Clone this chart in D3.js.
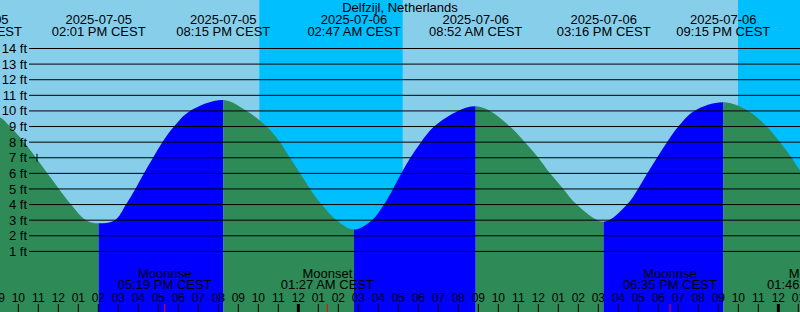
<!DOCTYPE html>
<html>
<head>
<meta charset="utf-8">
<title>Delfzijl tides</title>
<style>
  body { margin: 0; background: #fff; }
  svg { display: block; }
  text { font-family: 'Liberation Sans', Arial, sans-serif; fill: #000; }
</style>
</head>
<body>
<svg width="800" height="312"></svg>
<script src="https://d3js.org/d3.v7.min.js"></script>
<script>

const place = 'Delfzijl, Netherlands';

// high and low waters (first and last one sit just outside the window)
const extremeTimes = ['2025-07-05 07:51', '2025-07-05 14:01', '2025-07-05 20:15', '2025-07-06 02:47',
                      '2025-07-06 08:52', '2025-07-06 15:16', '2025-07-06 21:15', '2025-07-07 03:45'];
const extremeFeet = [10.2, 2.8, 10.7, 2.4, 10.3, 2.9, 10.55, 2.5];

// water level
const levelTimes = ['2025-07-05 09:05', '2025-07-05 09:35', '2025-07-05 10:17', '2025-07-05 10:53',
                    '2025-07-05 11:27', '2025-07-05 12:02', '2025-07-05 12:38', '2025-07-05 13:23',
                    '2025-07-05 14:50', '2025-07-05 15:23', '2025-07-05 15:51', '2025-07-05 16:17',
                    '2025-07-05 16:44', '2025-07-05 17:12', '2025-07-05 17:47', '2025-07-05 18:35',
                    '2025-07-05 21:25', '2025-07-05 22:25', '2025-07-05 23:05', '2025-07-05 23:35',
                    '2025-07-06 00:05', '2025-07-06 00:35', '2025-07-06 01:10', '2025-07-06 01:55',
                    '2025-07-06 03:41', '2025-07-06 04:17', '2025-07-06 04:44', '2025-07-06 05:09',
                    '2025-07-06 05:36', '2025-07-06 06:08', '2025-07-06 06:47', '2025-07-06 07:59',
                    '2025-07-06 09:35', '2025-07-06 10:35', '2025-07-06 11:20', '2025-07-06 12:00',
                    '2025-07-06 12:35', '2025-07-06 13:15', '2025-07-06 13:55',
                    '2025-07-06 16:26', '2025-07-06 16:59', '2025-07-06 17:27', '2025-07-06 17:56',
                    '2025-07-06 18:26', '2025-07-06 19:00', '2025-07-06 19:48',
                    '2025-07-06 22:30', '2025-07-06 23:25', '2025-07-07 00:05', '2025-07-07 00:40',
                    '2025-07-07 01:05'];
const levelFeet = [9.6, 9, 8, 7,
                   6, 5, 4, 3,
                   3, 4, 5, 6,
                   7, 8, 9, 10,
                   10, 9, 8, 7,
                   6, 5, 4, 3,
                   3, 4, 5, 6,
                   7, 8, 9, 10,
                   10, 9, 8, 7,
                   6, 5, 4,
                   4, 5, 6, 7,
                   8, 9, 10,
                   10, 9, 8, 7,
                   6.2];

const nightStart = ['2025-07-05 22:03', '2025-07-06 21:59'];
const nightEnd = ['2025-07-06 05:13', '2025-07-07 05:14'];

const moonEvents = ['Moonrise', 'Moonset', 'Moonrise', 'Moonset'];
const moonTimes = ['2025-07-05 17:19', '2025-07-06 01:27', '2025-07-06 18:35', '2025-07-07 01:46'];

const feetTicks = [1, 2, 3, 4, 5, 6, 7, 8, 9, 10, 11, 12, 13, 14];

const nowTime = '2025-07-05 10:56';
const nowFeet = 7;

const windowStart = '2025-07-05 09:05',
      windowEnd = '2025-07-07 01:05';

const width = 800,
      height = 312;

const parse = d3.timeParse('%Y-%m-%d %H:%M');

const x = d3.scaleTime()
	.domain([parse(windowStart), parse(windowEnd)])
	.range([0, width]);

const y = d3.scaleLinear()
	.domain([0, 14])
	.range([267, 48.5]);

let svg = d3.select('svg');

// sky: day and night
svg.append('rect')
	.attr('width', width)
	.attr('height', height)
	.attr('fill', '#87ceeb');

svg.selectAll('.night')
	.data(nightStart.map((s, i) => [parse(s), parse(nightEnd[i])]))
	.join('rect')
	.attr('class', 'night')
	.attr('x', d => x(d[0]))
	.attr('width', d => x(d[1]) - x(d[0]))
	.attr('height', height)
	.attr('fill', '#00bfff');

// tide curve
let extremes = extremeTimes.map((t, i) => ({t: parse(t), ft: extremeFeet[i]}));
let levels = levelTimes.map((t, i) => ({t: parse(t), ft: levelFeet[i]}))
	.concat(extremes)
	.sort((a, b) => a.t - b.t);

let area = d3.area()
	.curve(d3.curveCatmullRom.alpha(0.5))
	.x(d => x(d.t))
	.y0(height)
	.y1(d => y(d.ft));

svg.append('clipPath')
	.attr('id', 'water')
	.append('path')
	.attr('d', area(levels));

// blue while rising, green while falling
svg.append('g')
	.attr('clip-path', 'url(#water)')
	.selectAll('rect')
	.data(d3.pairs(extremes))
	.join('rect')
	.attr('x', d => x(d[0].t))
	.attr('width', d => x(d[1].t) - x(d[0].t))
	.attr('height', height)
	.attr('fill', d => d[1].ft > d[0].ft ? '#0000ff' : '#2e8b57');

// feet grid
svg.selectAll('.grid')
	.data(feetTicks)
	.join('line')
	.attr('class', 'grid')
	.attr('x1', 29)
	.attr('x2', width)
	.attr('y1', d => y(d))
	.attr('y2', d => y(d))
	.attr('stroke', '#000')
	.attr('stroke-width', 1);

svg.selectAll('.ft')
	.data(feetTicks)
	.join('text')
	.attr('class', 'ft')
	.attr('x', 27)
	.attr('y', d => y(d))
	.attr('dy', '0.35em')
	.attr('text-anchor', 'end')
	.style('font-size', '13px')
	.text(d => d + ' ft');

// marker on the curve
svg.append('line')
	.attr('x1', x(parse(nowTime)))
	.attr('x2', x(parse(nowTime)))
	.attr('y1', y(nowFeet) - 4)
	.attr('y2', y(nowFeet) + 4)
	.attr('stroke', '#000');

// hour ticks along the bottom
let hours = x.ticks(d3.timeHour.every(1));
hours.unshift(d3.timeHour.offset(hours[0], -1));

svg.selectAll('.hour')
	.data(hours)
	.join('line')
	.attr('class', 'hour')
	.attr('x1', d => x(d))
	.attr('x2', d => x(d))
	.attr('y1', 304)
	.attr('y2', height)
	.attr('stroke', '#000')
	.attr('stroke-width', d => d.getHours() === 0 ? 3 : 1);

svg.selectAll('.hourLabel')
	.data(hours)
	.join('text')
	.attr('class', 'hourLabel')
	.attr('x', d => x(d))
	.attr('y', 302)
	.attr('text-anchor', 'middle')
	.style('font-size', '12px')
	.text(d3.timeFormat('%I'));

// moon
let moon = moonTimes.map((t, i) => ({t: parse(t), name: moonEvents[i]}));

svg.selectAll('.moonTick')
	.data(moon)
	.join('line')
	.attr('class', 'moonTick')
	.attr('x1', d => x(d.t))
	.attr('x2', d => x(d.t))
	.attr('y1', 304)
	.attr('y2', height)
	.attr('stroke', '#ff0000');

let moonText = svg.selectAll('.moonLabel')
	.data(moon)
	.join('text')
	.attr('class', 'moonLabel')
	.attr('text-anchor', 'middle')
	.style('font-size', '13px');

moonText.append('tspan')
	.attr('x', d => x(d.t))
	.attr('y', 278)
	.text(d => d.name);

moonText.append('tspan')
	.attr('x', d => x(d.t))
	.attr('y', 289)
	.text(d => d3.timeFormat('%I:%M %p')(d.t) + ' CEST');

// high / low labels on top
let topText = svg.selectAll('.extLabel')
	.data(extremes)
	.join('text')
	.attr('class', 'extLabel')
	.attr('text-anchor', 'middle')
	.style('font-size', '13px');

topText.append('tspan')
	.attr('x', d => x(d.t))
	.attr('y', 24)
	.text(d => d3.timeFormat('%Y-%m-%d')(d.t));

topText.append('tspan')
	.attr('x', d => x(d.t))
	.attr('y', 36)
	.text(d => d3.timeFormat('%I:%M %p')(d.t) + ' CEST');

svg.append('text')
	.attr('x', width / 2)
	.attr('y', 12)
	.attr('text-anchor', 'middle')
	.style('font-size', '13px')
	.text(place);

</script>
</body>
</html>
